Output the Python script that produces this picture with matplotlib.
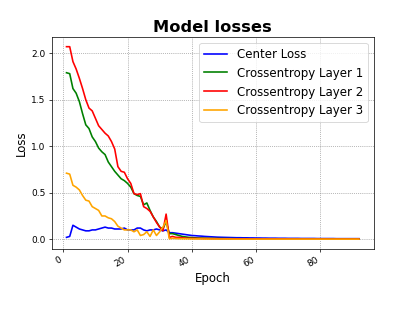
import numpy as np
import matplotlib.pyplot as plt

# losses per epoch
epochs = list(range(1, 93))

center_loss = [
    0.02, 0.03, 0.15, 0.13, 0.11, 0.10, 0.09, 0.09, 0.10, 0.10,
    0.11, 0.12, 0.13, 0.12, 0.12, 0.11, 0.11, 0.11, 0.12, 0.10,
    0.10, 0.10, 0.12, 0.12, 0.10, 0.09, 0.10, 0.10, 0.11, 0.10,
    0.09, 0.10, 0.07, 0.07, 0.065, 0.06, 0.055, 0.05, 0.045, 0.04,
    0.038, 0.035, 0.033, 0.030, 0.028, 0.026, 0.024, 0.022, 0.021, 0.020,
    0.019, 0.018, 0.017, 0.016, 0.016, 0.015, 0.015, 0.014, 0.014, 0.013,
    0.013, 0.012, 0.012, 0.011, 0.011, 0.011, 0.010, 0.010, 0.010, 0.009,
    0.009, 0.009, 0.009, 0.008, 0.008, 0.008, 0.008, 0.008, 0.007, 0.007,
    0.007, 0.007, 0.007, 0.007, 0.006, 0.006, 0.006, 0.006, 0.006, 0.006,
    0.006, 0.006,
]

ce_layer1 = [
    1.79, 1.78, 1.62, 1.57, 1.48, 1.35, 1.23, 1.19, 1.10, 1.05,
    0.98, 0.94, 0.91, 0.83, 0.78, 0.73, 0.69, 0.65, 0.63, 0.60,
    0.56, 0.49, 0.47, 0.46, 0.37, 0.39, 0.31, 0.24, 0.19, 0.13,
    0.11, 0.19, 0.06, 0.06, 0.05, 0.04, 0.03, 0.025, 0.020, 0.018,
    0.015, 0.013, 0.012, 0.011, 0.010, 0.009, 0.008, 0.008, 0.007, 0.007,
    0.006, 0.006, 0.006, 0.005, 0.005, 0.005, 0.005, 0.004, 0.004, 0.004,
    0.004, 0.004, 0.004, 0.003, 0.003, 0.003, 0.003, 0.003, 0.003, 0.003,
    0.003, 0.003, 0.002, 0.002, 0.002, 0.002, 0.002, 0.002, 0.002, 0.002,
    0.002, 0.002, 0.002, 0.002, 0.002, 0.002, 0.002, 0.002, 0.002, 0.002,
    0.002, 0.002,
]

ce_layer2 = [
    2.07, 2.07, 1.91, 1.83, 1.73, 1.62, 1.50, 1.41, 1.38, 1.30,
    1.22, 1.18, 1.14, 1.11, 1.05, 0.97, 0.78, 0.73, 0.72, 0.65,
    0.60, 0.49, 0.48, 0.49, 0.35, 0.33, 0.30, 0.24, 0.18, 0.13,
    0.09, 0.27, 0.02, 0.03, 0.02, 0.02, 0.015, 0.012, 0.010, 0.010,
    0.009, 0.008, 0.008, 0.007, 0.007, 0.006, 0.006, 0.006, 0.005, 0.005,
    0.005, 0.005, 0.004, 0.004, 0.004, 0.004, 0.004, 0.003, 0.003, 0.003,
    0.003, 0.003, 0.003, 0.003, 0.003, 0.003, 0.003, 0.003, 0.003, 0.003,
    0.002, 0.002, 0.002, 0.002, 0.002, 0.002, 0.002, 0.002, 0.002, 0.002,
    0.002, 0.002, 0.002, 0.002, 0.002, 0.002, 0.002, 0.002, 0.002, 0.002,
    0.002, 0.002,
]

ce_layer3 = [
    0.71, 0.70, 0.58, 0.56, 0.53, 0.47, 0.42, 0.41, 0.35, 0.33,
    0.31, 0.25, 0.25, 0.23, 0.22, 0.19, 0.14, 0.12, 0.10, 0.10,
    0.10, 0.08, 0.10, 0.04, 0.05, 0.08, 0.03, 0.10, 0.04, 0.08,
    0.13, 0.20, 0.005, 0.010, 0.008, 0.006, 0.005, 0.004, 0.004, 0.003,
    0.003, 0.003, 0.003, 0.002, 0.002, 0.002, 0.002, 0.002, 0.002, 0.002,
    0.002, 0.002, 0.001, 0.001, 0.001, 0.001, 0.001, 0.001, 0.001, 0.001,
    0.001, 0.001, 0.001, 0.001, 0.001, 0.001, 0.001, 0.001, 0.001, 0.001,
    0.001, 0.001, 0.001, 0.001, 0.001, 0.001, 0.001, 0.001, 0.001, 0.001,
    0.001, 0.001, 0.001, 0.001, 0.001, 0.001, 0.001, 0.001, 0.001, 0.001,
    0.001, 0.001,
]


def main():
    fig, ax = plt.subplots(figsize=(6.4, 4.8), dpi=64.85)

    ax.plot(epochs, center_loss, color='blue', lw=1.8, label='Center Loss')
    ax.plot(epochs, ce_layer1, color='green', lw=1.8, label='Crossentropy Layer 1')
    ax.plot(epochs, ce_layer2, color='red', lw=1.8, label='Crossentropy Layer 2')
    ax.plot(epochs, ce_layer3, color='orange', lw=1.8, label='Crossentropy Layer 3')

    ax.set_title('Model losses', fontsize=18, fontweight='bold')
    ax.set_xlabel('Epoch', fontsize=13)
    ax.set_ylabel('Loss', fontsize=13)
    ax.grid(True, linestyle=':', color='gray', linewidth=0.8)
    ax.legend(loc='upper right', fontsize=13)
    fig.autofmt_xdate()

    plt.savefig('out.png', dpi=64.85)


if __name__ == '__main__':
    main()
